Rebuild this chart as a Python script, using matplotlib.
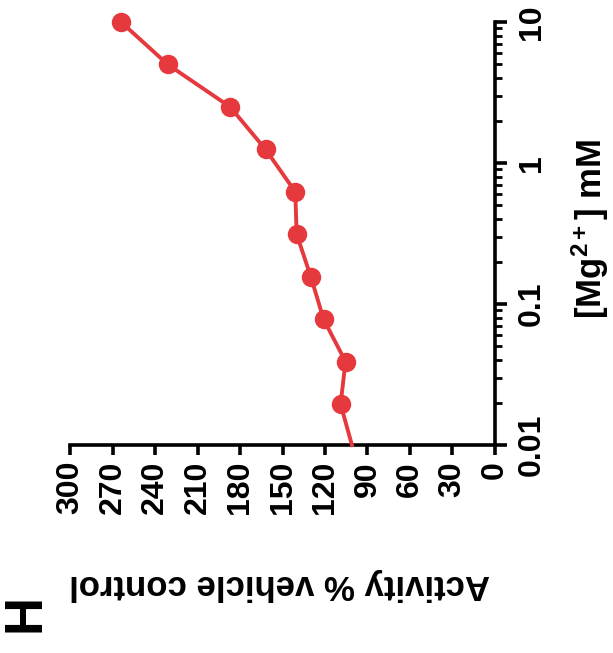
import numpy as np
import matplotlib
matplotlib.use("Agg")
import matplotlib.pyplot as plt
from matplotlib.ticker import FixedLocator, LogLocator, NullFormatter

plt.rcParams['font.family'] = ['Liberation Sans', 'DejaVu Sans']
plt.rcParams['font.weight'] = 'bold'
plt.rcParams['mathtext.fontset'] = 'custom'
plt.rcParams['mathtext.rm'] = 'Liberation Sans:bold'
plt.rcParams['mathtext.it'] = 'Liberation Sans:bold'
plt.rcParams['mathtext.bf'] = 'Liberation Sans:bold'

# Mg2+ concentration (mM) and activity (% of vehicle control)
mg_conc = [10, 5, 2.5, 1.25, 0.625, 0.3125, 0.156, 0.078, 0.039, 0.0195]
activity = [264, 231, 187, 162, 141, 140, 130, 121, 105.5, 109]
# curve runs on down to the axis at the lowest concentration
line_conc = mg_conc + [0.01]
line_act = activity + [101]

act_ticks = [0, 30, 60, 90, 120, 150, 180, 210, 240, 270, 300]
mg_ticks = [0.01, 0.1, 1, 10]
mg_labels = ['0.01', '0.1', '1', '10']

red = '#e6393e'

fig = plt.figure(figsize=(6.13, 6.53), dpi=100)
ax = fig.add_axes([0.1142, 0.3185, 0.6933, 0.6478])

ax.plot(line_act, line_conc, color=red, lw=2.8, zorder=3, clip_on=False)
ax.plot(activity, mg_conc, 'o', color=red, ms=13, mec=red, zorder=4, clip_on=False)

ax.set_yscale('log')
ax.set_xlim(300, 0)
ax.set_ylim(0.01, 10)

for s in ['top', 'left']:
    ax.spines[s].set_visible(False)
for s in ['bottom', 'right']:
    ax.spines[s].set_linewidth(2.6)

ax.xaxis.set_major_locator(FixedLocator(act_ticks))
ax.set_xticklabels([str(t) for t in act_ticks], rotation=90, fontsize=23, fontweight='bold')
ax.tick_params(axis='x', direction='out', length=7.5, width=2.6, pad=4)

ax.yaxis.tick_right()
ax.yaxis.set_label_position('right')
ax.yaxis.set_major_locator(FixedLocator(mg_ticks))
ax.yaxis.set_minor_locator(LogLocator(base=10, subs=np.arange(2, 10)))
ax.yaxis.set_minor_formatter(NullFormatter())
ax.set_yticklabels(mg_labels, rotation=90, fontsize=23, fontweight='bold', va='center')
ax.tick_params(axis='y', which='major', direction='out', length=8.5, width=2.6, pad=7)
ax.tick_params(axis='y', which='minor', direction='out', length=5, width=2.0)

ax.set_xlabel('Activity % vehicle control', rotation=180, fontsize=25, fontweight='bold',
              va='center', ha='center')
ax.xaxis.set_label_coords(0.494, -0.33)
ax.set_ylabel(r'[Mg$^{2+}$] mM', rotation=90, fontsize=25, fontweight='bold',
              va='center', ha='center')
ax.yaxis.set_label_coords(1.225, 0.51)

fig.text(0.042, 0.061, 'H', rotation=90, fontsize=38, fontweight='bold',
         ha='center', va='center')

fig.savefig('out.png', dpi=100)
